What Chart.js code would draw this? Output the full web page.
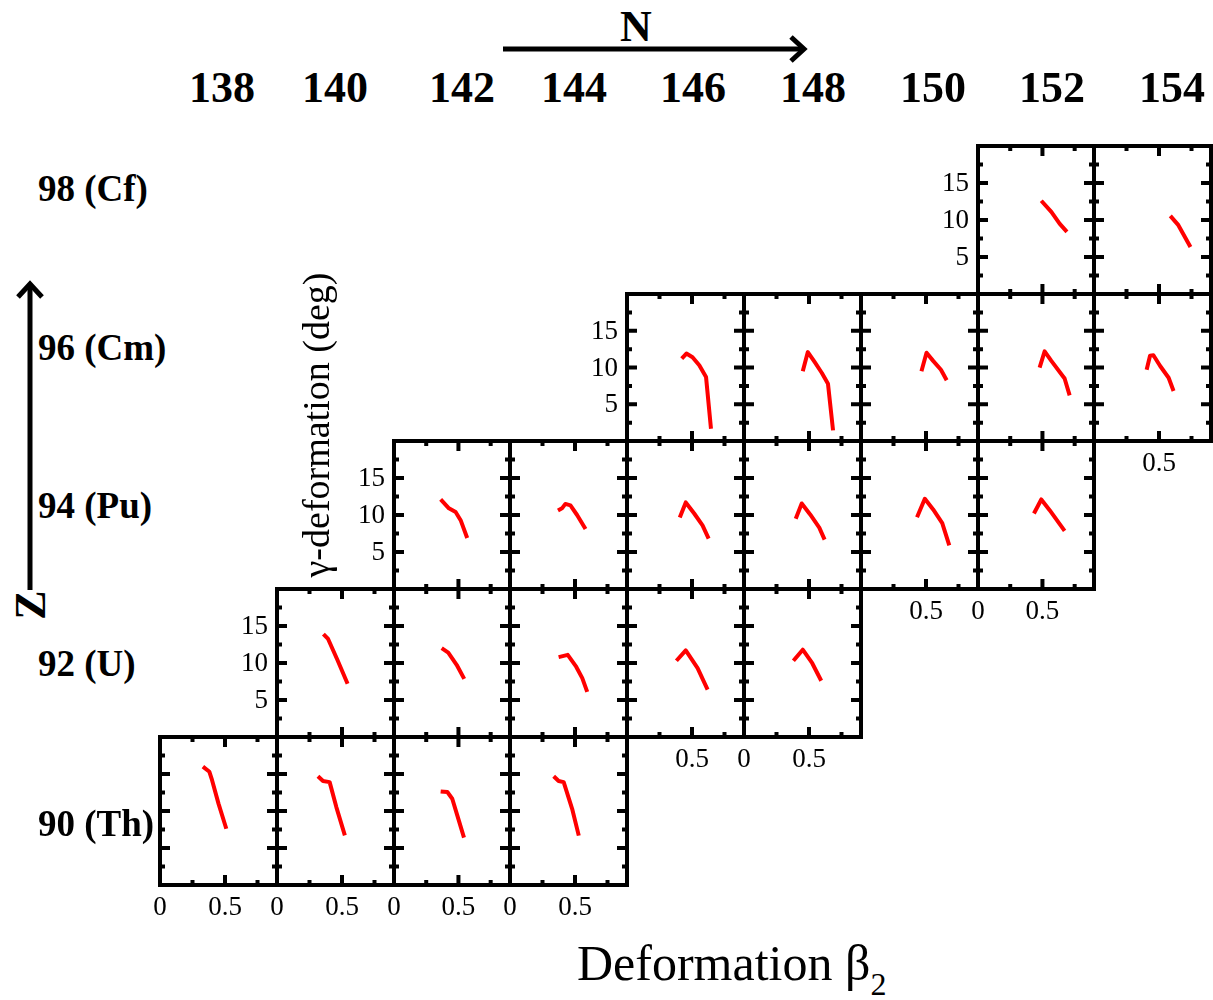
<!DOCTYPE html>
<html>
<head>
<meta charset="utf-8">
<script src="https://cdn.jsdelivr.net/npm/chart.js@4.4.1/dist/chart.umd.min.js"></script>
<style>
  body { margin: 0; background: #fff; }
  #wrap { position: relative; width: 1213px; height: 1000px; overflow: hidden;
          font-family: "Liberation Serif", "Times New Roman", serif; color: #000; }
  #wrap canvas { position: absolute; }
  .lbl { position: absolute; white-space: nowrap; line-height: 1; }
  .c { transform: translate(-50%, -50%); }
  .b { font-weight: bold; }
</style>
</head>
<body>
<div id="wrap"></div>
<script>
// === Dados ===
const nValues = [138, 140, 142, 144, 146, 148, 150, 152, 154];
const zLabels = ["98 (Cf)", "96 (Cm)", "94 (Pu)", "92 (U)", "90 (Th)"];
const betaTicks = [0, 0.5];
const gammaTicks = [5, 10, 15];

// curvas [beta2, gamma] por núcleo
const th228 = [[0.33, 16.0], [0.38, 15.3], [0.40, 14.2], [0.45, 11.0], [0.51, 7.6]];
const th230 = [[0.315, 14.7], [0.354, 14.05], [0.405, 13.9], [0.457, 10.5], [0.522, 6.7]];
const th232 = [[0.362, 12.65], [0.414, 12.56], [0.452, 11.66], [0.491, 9.4], [0.543, 6.4]];
const th234 = [[0.336, 14.7], [0.374, 14.05], [0.413, 13.9], [0.478, 10.3], [0.529, 6.67]];
const u232 = [[0.357, 13.9], [0.393, 13.25], [0.465, 10.4], [0.543, 7.2]];
const u234 = [[0.370, 12.0], [0.421, 11.4], [0.486, 9.76], [0.545, 7.85]];
const u236 = [[0.374, 10.8], [0.444, 11.1], [0.509, 9.5], [0.556, 7.95], [0.594, 6.1]];
const u238 = [[0.380, 10.3], [0.452, 11.7], [0.543, 9.3], [0.620, 6.4]];
const u240 = [[0.380, 10.3], [0.452, 11.8], [0.525, 9.97], [0.594, 7.6]];
const pu236 = [[0.362, 12.1], [0.426, 10.9], [0.478, 10.4], [0.517, 9.3], [0.568, 6.9]];
const pu238 = [[0.369, 10.6], [0.400, 10.9], [0.426, 11.5], [0.465, 11.3], [0.516, 10.0], [0.581, 8.1]];
const pu240 = [[0.406, 9.66], [0.452, 11.7], [0.517, 10.2], [0.581, 8.6], [0.628, 6.8]];
const pu242 = [[0.398, 9.5], [0.444, 11.56], [0.509, 10.07], [0.579, 8.3], [0.620, 6.67]];
const pu244 = [[0.431, 9.7], [0.491, 12.2], [0.555, 10.75], [0.625, 8.9], [0.679, 5.9]];
const pu246 = [[0.434, 10.2], [0.491, 12.1], [0.556, 10.65], [0.672, 7.85]];
const cm242 = [[0.421, 11.2], [0.457, 11.9], [0.504, 11.4], [0.556, 10.3], [0.608, 8.7], [0.646, 1.67]];
const cm244 = [[0.452, 9.5], [0.491, 12.1], [0.543, 10.75], [0.599, 9.25], [0.646, 7.8], [0.685, 1.45]];
const cm246 = [[0.465, 9.5], [0.504, 12.0], [0.555, 10.9], [0.615, 9.7], [0.659, 8.26]];
const cm248 = [[0.478, 9.98], [0.517, 12.2], [0.569, 10.9], [0.672, 8.5], [0.711, 6.2]];
const cm250 = [[0.405, 9.7], [0.431, 11.6], [0.457, 11.66], [0.509, 10.2], [0.574, 8.6], [0.612, 6.8]];
const cf250 = [[0.491, 12.6], [0.569, 11.1], [0.633, 9.5], [0.690, 8.4]];
const cf252 = [[0.587, 10.56], [0.649, 9.3], [0.742, 6.34]];

// painel: Z, N, curva, rótulos
const panels = [
  { z: 98, n: 152, curve: cf250, yLab: true },
  { z: 98, n: 154, curve: cf252 },
  { z: 96, n: 146, curve: cm242, yLab: true },
  { z: 96, n: 148, curve: cm244 },
  { z: 96, n: 150, curve: cm246 },
  { z: 96, n: 152, curve: cm248 },
  { z: 96, n: 154, curve: cm250, xLab: [0.5] },
  { z: 94, n: 142, curve: pu236, yLab: true },
  { z: 94, n: 144, curve: pu238 },
  { z: 94, n: 146, curve: pu240 },
  { z: 94, n: 148, curve: pu242 },
  { z: 94, n: 150, curve: pu244, xLab: [0.5] },
  { z: 94, n: 152, curve: pu246, xLab: betaTicks },
  { z: 92, n: 140, curve: u232, yLab: true },
  { z: 92, n: 142, curve: u234 },
  { z: 92, n: 144, curve: u236 },
  { z: 92, n: 146, curve: u238, xLab: [0.5] },
  { z: 92, n: 148, curve: u240, xLab: betaTicks },
  { z: 90, n: 138, curve: th228, xLab: betaTicks },
  { z: 90, n: 140, curve: th230, xLab: betaTicks },
  { z: 90, n: 142, curve: th232, xLab: betaTicks },
  { z: 90, n: 144, curve: th234, xLab: betaTicks }
];

// === Layout ===
const wrap = document.getElementById("wrap");
const PAD = 50;
const colLeft = i => Math.round(160 + i * 116.8);
const rowTop = r => Math.round(146 + r * 147.7);

// moldura + ticks para dentro + rótulos
const panelFrame = {
  id: "panelFrame",
  afterDatasetsDraw(chart, args, opts) {
    const { ctx, chartArea: a, scales: { x, y } } = chart;
    ctx.save();
    ctx.strokeStyle = "#000";
    ctx.lineWidth = 4;
    ctx.lineCap = "butt";
    ctx.strokeRect(a.left, a.top, a.right - a.left, a.bottom - a.top);
    ctx.beginPath();
    [0.25, 0.5, 0.75].forEach(v => {
      const px = x.getPixelForValue(v);
      const len = v === 0.5 ? 10 : 5;
      ctx.moveTo(px, a.bottom); ctx.lineTo(px, a.bottom - len);
      ctx.moveTo(px, a.top); ctx.lineTo(px, a.top + len);
    });
    [2.5, 5, 7.5, 10, 12.5, 15, 17.5].forEach(v => {
      const py = y.getPixelForValue(v);
      const len = v % 5 === 0 ? 10 : 5;
      ctx.moveTo(a.left, py); ctx.lineTo(a.left + len, py);
      ctx.moveTo(a.right, py); ctx.lineTo(a.right - len, py);
    });
    ctx.stroke();

    ctx.fillStyle = "#000";
    ctx.font = '27px "Liberation Serif", serif';
    if (opts.yLab) {
      ctx.textAlign = "right";
      ctx.textBaseline = "middle";
      gammaTicks.forEach(v => ctx.fillText(String(v), a.left - 9, y.getPixelForValue(v) + 1));
    }
    if (opts.xLab) {
      ctx.textAlign = "center";
      ctx.textBaseline = "top";
      opts.xLab.forEach(v => ctx.fillText(String(v), x.getPixelForValue(v), a.bottom + 9));
    }
    ctx.restore();
  }
};

panels.forEach(p => {
  const ci = (p.n - 138) / 2;
  const ri = (98 - p.z) / 2;
  const left = colLeft(ci), top = rowTop(ri);
  const w = colLeft(ci + 1) - left, h = rowTop(ri + 1) - top;
  const cv = document.createElement("canvas");
  cv.width = w + 2 * PAD;
  cv.height = h + 2 * PAD;
  cv.style.left = (left - PAD) + "px";
  cv.style.top = (top - PAD) + "px";
  wrap.appendChild(cv);
  new Chart(cv.getContext("2d"), {
    type: "line",
    data: {
      datasets: [{
        data: p.curve.map(([bx, gy]) => ({ x: bx, y: gy })),
        borderColor: "#ff0000",
        borderWidth: 4,
        pointRadius: 0,
        tension: 0,
        fill: false,
        borderJoinStyle: "round"
      }]
    },
    options: {
      responsive: false,
      animation: false,
      events: [],
      layout: { padding: PAD },
      plugins: {
        legend: { display: false },
        tooltip: { enabled: false },
        panelFrame: { yLab: !!p.yLab, xLab: p.xLab || null }
      },
      scales: {
        x: { type: "linear", min: 0, max: 0.9, display: false },
        y: { type: "linear", min: 0, max: 20, display: false }
      }
    },
    plugins: [panelFrame]
  });
});

// === Textos ===
function addLabel(html, cls, style) {
  const d = document.createElement("div");
  d.className = "lbl " + cls;
  d.innerHTML = html;
  Object.assign(d.style, style);
  wrap.appendChild(d);
  return d;
}

const nLabelX = [222, 335, 462, 574, 693, 813, 933, 1052, 1172];
nValues.forEach((n, i) => addLabel(String(n), "c b", { left: nLabelX[i] + "px", top: "88px", fontSize: "44px" }));

const zLabelY = [188, 347, 505, 663, 823];
zLabels.forEach((t, i) => addLabel(t, "b", { left: "38px", top: (zLabelY[i] - 18) + "px", fontSize: "37px" }));

addLabel("N", "c b", { left: "636px", top: "27px", fontSize: "44px" });
addLabel("Z", "c b", { left: "31px", top: "605px", fontSize: "44px", transform: "translate(-50%,-50%) rotate(-90deg)" });
addLabel("γ-deformation (deg)", "c", { left: "316px", top: "425px", fontSize: "38px", transform: "translate(-50%,-50%) rotate(-90deg)" });
addLabel('Deformation β<span style="font-size:32px;position:relative;top:15px">2</span>', "", { left: "577px", top: "938px", fontSize: "50px" });

// setas
const svgNS = "http://www.w3.org/2000/svg";
const svg = document.createElementNS(svgNS, "svg");
svg.setAttribute("width", "1213");
svg.setAttribute("height", "1000");
svg.style.position = "absolute";
svg.style.left = "0";
svg.style.top = "0";
svg.innerHTML =
  '<g stroke="#000" stroke-width="5" fill="none">' +
  '<line x1="503" y1="49" x2="802" y2="49"/>' +
  '<polyline points="791,37 804,49 791,61"/>' +
  '<line x1="30" y1="590" x2="30" y2="286"/>' +
  '<polyline points="18,297 30,284 42,297"/>' +
  '</g>';
wrap.appendChild(svg);
</script>
</body>
</html>
